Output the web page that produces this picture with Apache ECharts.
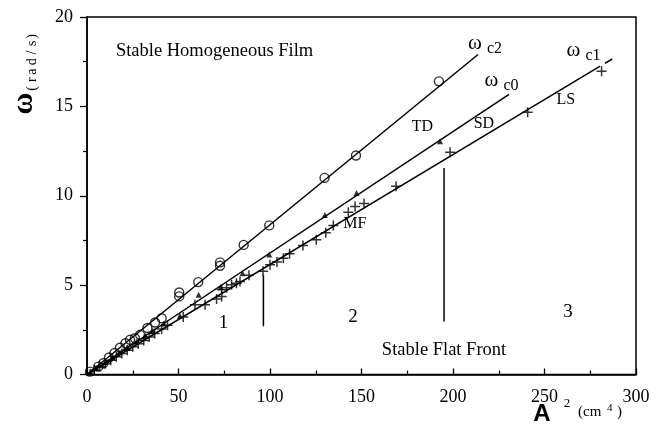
<!DOCTYPE html>
<html><head><meta charset="utf-8">
<script src="https://cdn.jsdelivr.net/npm/echarts@6/dist/echarts.min.js"></script>
<style>html,body{margin:0;padding:0;background:#fff}#c{width:662px;height:432px}</style>
</head><body><div id="c"></div>
<script>
// ---- data ----
const xTicks = [0, 50, 100, 150, 200, 250, 300];
const yTicks = [0, 5, 10, 15, 20];

// omega_c2 : open circles
const c2Points = [[1.6,0.16],[6.2,0.44],[8.9,0.63],[12,0.95],[15,1.2],[18,1.5],[21,1.75],[23.5,1.94],[26.2,2.03],[29,2.22],[33,2.6],[37.2,2.91],[40.8,3.15],[50.4,4.37],[50.4,4.59],[60.8,5.17],[72.7,6.08],[72.7,6.27],[85.6,7.25],[99.6,8.34],[129.8,11.0],[147,12.25],[192.3,16.4]];
// omega_c0 : small filled triangles
const c0Points = [[2,0.15],[5,0.35],[10,0.7],[14,0.95],[18,1.25],[22,1.5],[27,1.85],[32,2.15],[36,2.45],[42,2.85],[50.8,3.28],[61,4.46],[73,4.9],[85,5.67],[99.6,6.72],[130,8.92],[147.3,10.16],[192.9,13.05]];
// omega_c1 : plus signs
const c1Points = [[4,0.25],[7,0.45],[10,0.6],[13,0.8],[16,1.0],[19,1.17],[22,1.35],[25,1.55],[28,1.72],[31,1.9],[34,2.1],[37,2.3],[40.8,2.55],[44,2.75],[52.6,3.21],[59,3.9],[64.5,3.9],[70.8,4.22],[73.6,4.37],[73.6,4.74],[76.3,4.85],[79,5.02],[81.7,5.11],[83.6,5.2],[88.5,5.55],[96.2,5.77],[100,6.14],[103.8,6.3],[107.3,6.5],[110.7,6.75],[118,7.22],[125.3,7.54],[130.5,7.93],[134.6,8.34],[142.8,9.07],[146.5,9.4],[151.4,9.56],[168.9,10.53],[198.4,12.43],[240.8,14.67],[281.2,16.97]];

// fitted lines
const fitC2 = [[0,0],[213.7,17.9]];
const fitC0 = [[0,0],[230.6,15.67]];
const fitC1 = [[0,0],[280.4,17.25]];
const fitC1Tail = [[283,17.4],[287,17.65]];

// region dividers
const divider1 = [[96.4,2.7],[96.4,5.55]];
const divider2 = [[195.1,2.96],[195.1,11.55]];

// annotations (text, anchor in data units)
const plainText = ['Stable Homogeneous Film','TD','SD','LS','MF','1','2','3','Stable Flat Front'];
const plainAt = [[69.7,18.07],[183.3,13.84],[216.9,14.04],[261.7,15.38],[146.4,8.43],[74.6,2.86],[145.4,3.2],[262.8,3.51],[195.1,1.38]];
const omegaSub = ['c2','c0','c1'];
const omegaAt = [[212,18.52],[221,16.45],[265.8,18.13]];

// ---- chart ----
const SERIF = 'Liberation Serif';
const crossPath = 'path://M0,4.25H10V5.75H0Z M4.25,0H5.75V10H4.25Z';
const chart = echarts.init(document.getElementById('c'), null, {renderer:'canvas'});
const lineStyle = {color:'#000', width:1.5};
function lineSeries(d){ return {type:'line', data:d, showSymbol:false, symbol:'none', lineStyle:lineStyle, silent:true, z:3}; }

chart.setOption({
  animation:false,
  backgroundColor:'#fff',
  grid:{left:87, right:26, top:17, bottom:57.5, show:true, borderColor:'#000', borderWidth:1.5},
  xAxis:{type:'value', min:xTicks[0], max:xTicks[xTicks.length-1], interval:50,
    axisLine:{lineStyle:{color:'#000', width:1.5}},
    axisTick:{inside:true, length:6, lineStyle:{color:'#000', width:1.3}},
    minorTick:{show:true, splitNumber:2, length:4, lineStyle:{color:'#000', width:1.2}},
    splitLine:{show:false},
    axisLabel:{color:'#000', fontFamily:SERIF, fontSize:18, margin:14}},
  yAxis:{type:'value', min:yTicks[0], max:yTicks[yTicks.length-1], interval:5,
    axisLine:{lineStyle:{color:'#000', width:1.5}},
    axisTick:{inside:false, length:7, lineStyle:{color:'#000', width:1.3}},
    minorTick:{show:true, splitNumber:2, length:4, lineStyle:{color:'#000', width:1.2}},
    splitLine:{show:false},
    axisLabel:{color:'#000', fontFamily:SERIF, fontSize:18, margin:14}},
  series:[
    lineSeries(fitC2), lineSeries(fitC0), lineSeries(fitC1), lineSeries(fitC1Tail),
    lineSeries(divider1), lineSeries(divider2),
    {type:'scatter', data:c2Points, symbol:'circle', symbolSize:9, z:4,
      itemStyle:{color:'rgba(255,255,255,0)', borderColor:'#000', borderWidth:1.4}},
    {type:'scatter', data:c0Points, symbol:'triangle', symbolSize:6, z:4,
      itemStyle:{color:'#000'}},
    {type:'scatter', data:c1Points, symbol:crossPath, symbolSize:10, z:4,
      itemStyle:{color:'#000'}}
  ]
});

const g = [];
plainText.forEach((t,i)=>{
  const p = chart.convertToPixel({gridIndex:0}, plainAt[i]);
  const fs = t.length===1 ? 19 : (t.length===2 ? 16 : 18.5);
  g.push({type:'text', x:p[0], y:p[1], silent:true, z:10,
    style:{text:t, fill:'#000', font:fs+'px "'+SERIF+'"', textAlign:'center', textVerticalAlign:'middle'}});
});
omegaSub.forEach((s,i)=>{
  const p = chart.convertToPixel({gridIndex:0}, omegaAt[i]);
  g.push({type:'text', x:p[0], y:p[1], silent:true, z:10,
    style:{text:'ω', fill:'#000', font:'21px "'+SERIF+'"', textAlign:'center', textVerticalAlign:'middle'}});
  g.push({type:'text', x:p[0]+12, y:p[1]+5, silent:true, z:10,
    style:{text:s, fill:'#000', font:'16px "'+SERIF+'"', textAlign:'left', textVerticalAlign:'middle'}});
});
// y-axis title: bold omega + widely spaced "(rad/s)"
g.push({type:'text', x:24, y:103.5, rotation:Math.PI/2, silent:true,
  style:{text:'ω', fill:'#000', font:'bold 30px "'+SERIF+'"', textAlign:'center', textVerticalAlign:'middle'}});
const unitChars = ['(', 'r', 'a', 'd', '/', 's', ')'];
const unitPos = [88.3, 79.7, 71.7, 61.7, 52.5, 43.3, 36.3];
unitChars.forEach((ch,i)=>{
  g.push({type:'text', x:32, y:unitPos[i], rotation:Math.PI/2, silent:true,
    style:{text:ch, fill:'#000', font:'14px "'+SERIF+'"', textAlign:'center', textVerticalAlign:'middle'}});
});
// x-axis title
g.push({type:'text', x:542, y:414, silent:true, style:{text:'A', fill:'#000', font:'bold 24px "Liberation Sans"', textAlign:'center', textVerticalAlign:'middle'}});
g.push({type:'text', x:567, y:404, silent:true, style:{text:'2', fill:'#000', font:'13px "'+SERIF+'"', textAlign:'center', textVerticalAlign:'middle'}});
g.push({type:'text', x:578, y:412, silent:true, style:{text:'(cm', fill:'#000', font:'15px "'+SERIF+'"', textAlign:'left', textVerticalAlign:'middle'}});
g.push({type:'text', x:607, y:408, silent:true, style:{text:'4', fill:'#000', font:'11px "'+SERIF+'"', textAlign:'left', textVerticalAlign:'middle'}});
g.push({type:'text', x:617, y:412, silent:true, style:{text:')', fill:'#000', font:'15px "'+SERIF+'"', textAlign:'left', textVerticalAlign:'middle'}});
chart.setOption({graphic:g});
</script></body></html>
